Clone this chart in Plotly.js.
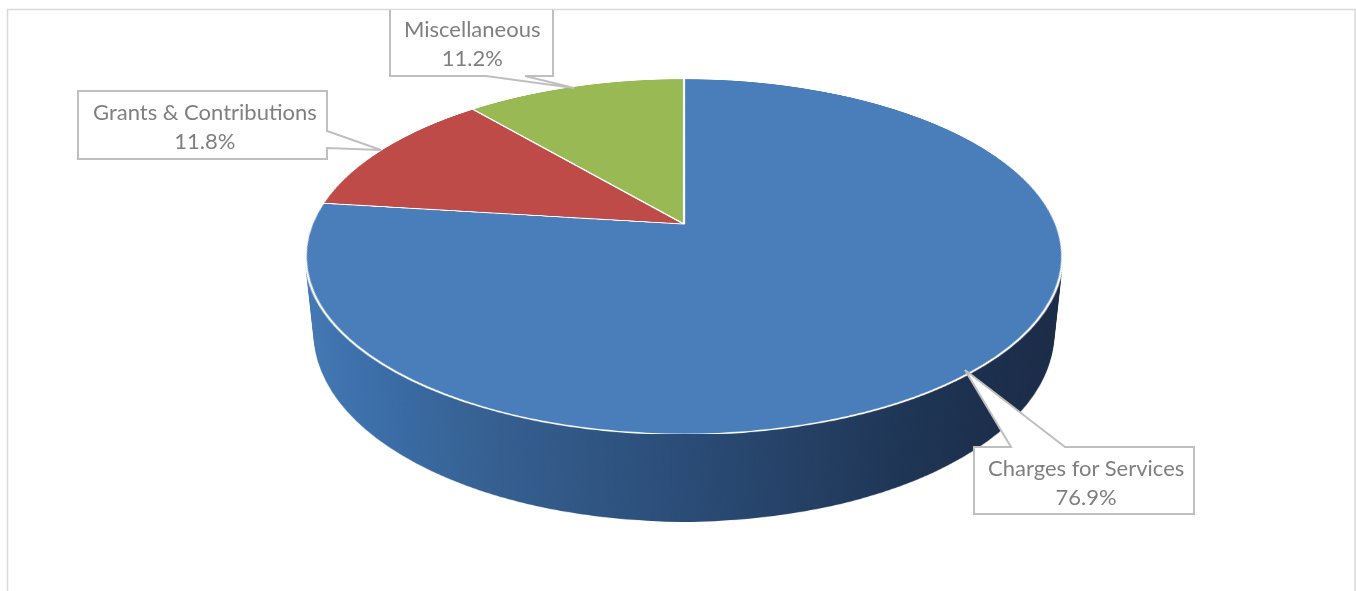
<!DOCTYPE html>
<html><head><meta charset="utf-8">
<script src="https://cdn.plot.ly/plotly-3.0.1.min.js"></script>
<style>
html,body{margin:0;padding:0;background:#fff;overflow:hidden;width:1356px;height:591px}
#stage{position:absolute;left:0;top:0;width:1356px;height:591px;overflow:hidden;background:#fff}
.disc{position:absolute;transform-origin:50% 50%}
#labels{position:absolute;left:0;top:0;width:1356px;height:591px}
</style></head><body>
<div id="stage"><div id="side" class="disc"></div><div id="top" class="disc"></div><div id="labels"></div></div>
<script>
// Data
const categories = ["Charges for Services", "Grants & Contributions", "Miscellaneous"];
const shares = [76.9, 11.8, 11.2];
const sliceColors = ["#4a7ebb", "#be4b48", "#98b954"];
const sideStops = [[0, "#457ab5"], [0.15, "#3a6ca6"], [0.285, "#355f90"], [0.5, "#2a4c77"], [0.64, "#243f63"], [0.75, "#1e3555"], [0.87, "#1b2e4b"], [1, "#192a45"]];

// View of the tilted disc
const apexX = 684, apexY = 224, radius = 372, tilt = 62.5, camera = 1801, depth = 88;
const size = radius * 2;
const view = z => `perspective(${camera}px) rotateX(${tilt}deg) translateZ(${-z}px)`;
const pieLayout = {width: size, height: size, margin: {l:0,r:0,t:0,b:0,pad:0}, paper_bgcolor: "rgba(0,0,0,0)", plot_bgcolor: "rgba(0,0,0,0)", showlegend: false};
const pieTrace = line => ({type: "pie", labels: categories, values: shares, sort: false, direction: "clockwise", rotation: 0,
  textinfo: "none", hoverinfo: "skip", marker: {colors: sliceColors, line: line}, domain: {x:[0,1], y:[0,1]}});
const cfg = {staticPlot: true, displayModeBar: false};

for (const id of ["side", "top"]) {
  const d = document.getElementById(id);
  d.style.cssText = `left:${apexX - radius}px;top:${apexY - radius}px;width:${size}px;height:${size}px;`;
}
const topDiv = document.getElementById("top"), sideDiv = document.getElementById("side");
topDiv.style.transform = view(0);
Plotly.newPlot(topDiv, [pieTrace({color: "#ffffff", width: 2.2})], pieLayout, cfg);

Plotly.newPlot(sideDiv, [pieTrace({color: "rgba(0,0,0,0)", width: 0})], pieLayout, cfg).then(() => {
  const svg = sideDiv.querySelector("svg.main-svg");
  const ns = "http://www.w3.org/2000/svg";
  const defs = svg.querySelector("defs") || svg.insertBefore(document.createElementNS(ns, "defs"), svg.firstChild);
  const g = document.createElementNS(ns, "linearGradient");
  g.setAttribute("id", "sideGrad");
  g.setAttribute("gradientUnits", "userSpaceOnUse");
  g.setAttribute("x1", 0); g.setAttribute("x2", size); g.setAttribute("y1", 0); g.setAttribute("y2", 0);
  sideStops.forEach(([o, c]) => {
    const s = document.createElementNS(ns, "stop");
    s.setAttribute("offset", o); s.setAttribute("stop-color", c); g.appendChild(s);
  });
  defs.appendChild(g);
  sideDiv.querySelectorAll(".slice path").forEach(p => { p.style.fill = "url(#sideGrad)"; p.style.stroke = "none"; });
  sideDiv.style.transform = view(depth);
  // extrude: the same drawn disc repeated at each depth between the rim and the base
  const stage = document.getElementById("stage");
  for (let z = depth - 1; z > 0; z--) {
    const c = sideDiv.cloneNode(true);
    c.removeAttribute("id");
    c.style.transform = view(z);
    stage.insertBefore(c, topDiv);
  }
});

// Callouts
const boxes = [
  {path:"M390,10 V76 H486 L574,88 L525,76 H553 V10", tx:471.5, ty:43},
  {path:"M78,91 H327 V131 L381,150 L327,148 V159 H78 Z", tx:205, ty:126},
  {path:"M974,447 H1011 L965,370 L1065,447 H1194 V514 H974 Z", tx:1086, ty:482}
];
const labelOrder = [2, 1, 0];
const shapes = [{type:"path", xref:"x", yref:"y", path:"M7.5,591 V9.5 H1355 V591", line:{color:"#d9d9d9", width:1.5}, fillcolor:"rgba(0,0,0,0)", layer:"below"}];
boxes.forEach(b => shapes.push({type:"path", xref:"x", yref:"y", path:b.path, line:{color:"#bfbfbf", width:2}, fillcolor:"#ffffff"}));
const annotations = boxes.map((b, i) => ({
  xref:"x", yref:"y", x:b.tx, y:b.ty, showarrow:false, xanchor:"center", yanchor:"middle", align:"center",
  text: categories[labelOrder[i]] + "<br>" + shares[labelOrder[i]].toFixed(1) + "%",
  font:{family:"Lato, 'Open Sans', sans-serif", size:22, color:"#7f7f7f"}
}));
Plotly.newPlot("labels", [{type:"scatter", x:[], y:[], hoverinfo:"skip"}], {
  width:1356, height:591, margin:{l:0,r:0,t:0,b:0,pad:0}, paper_bgcolor:"rgba(0,0,0,0)", plot_bgcolor:"rgba(0,0,0,0)", showlegend:false,
  xaxis:{range:[0,1356], visible:false, fixedrange:true}, yaxis:{range:[591,0], visible:false, fixedrange:true},
  shapes, annotations
}, cfg);
</script>
</body></html>
